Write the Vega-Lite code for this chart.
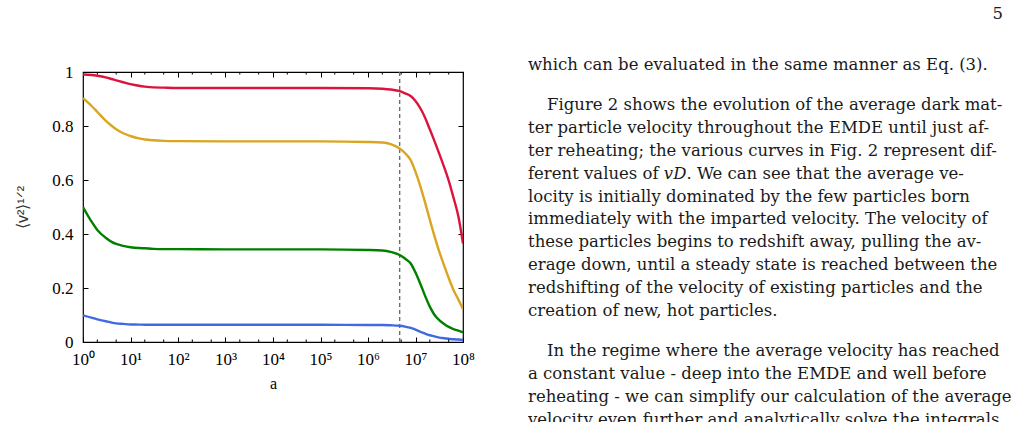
{
  "$schema": "https://vega.github.io/schema/vega-lite/v6.json",
  "background": "white",
  "padding": {"left": 14, "top": 6, "right": 0, "bottom": 0},
  "bounds": "flush",
  "spacing": 65,
  "config": {"view": {"stroke": null}},
  "datasets": {
    "curves": [
      {"vD": 1, "a": 1, "v": 0.991}, {"vD": 1, "a": 1.5, "v": 0.989}, {"vD": 1, "a": 2, "v": 0.986}, {"vD": 1, "a": 3, "v": 0.980}, {"vD": 1, "a": 4, "v": 0.974}, {"vD": 1, "a": 5, "v": 0.969}, {"vD": 1, "a": 7, "v": 0.962}, {"vD": 1, "a": 10, "v": 0.955}, {"vD": 1, "a": 15, "v": 0.949}, {"vD": 1, "a": 20, "v": 0.946}, {"vD": 1, "a": 30, "v": 0.943}, {"vD": 1, "a": 50, "v": 0.942}, {"vD": 1, "a": 100, "v": 0.941}, {"vD": 1, "a": 1000, "v": 0.941}, {"vD": 1, "a": 10000, "v": 0.941}, {"vD": 1, "a": 100000, "v": 0.941}, {"vD": 1, "a": 1000000, "v": 0.940}, {"vD": 1, "a": 2000000, "v": 0.938}, {"vD": 1, "a": 3000000, "v": 0.935}, {"vD": 1, "a": 4640000, "v": 0.929}, {"vD": 1, "a": 6000000, "v": 0.921}, {"vD": 1, "a": 8000000, "v": 0.910}, {"vD": 1, "a": 10000000, "v": 0.893}, {"vD": 1, "a": 13000000, "v": 0.862}, {"vD": 1, "a": 16000000, "v": 0.830}, {"vD": 1, "a": 20000000, "v": 0.788}, {"vD": 1, "a": 25000000, "v": 0.745}, {"vD": 1, "a": 32000000, "v": 0.695}, {"vD": 1, "a": 40000000, "v": 0.648}, {"vD": 1, "a": 50000000, "v": 0.598}, {"vD": 1, "a": 63000000, "v": 0.535}, {"vD": 1, "a": 80000000, "v": 0.465}, {"vD": 1, "a": 100000000, "v": 0.365},
      {"vD": 0.9, "a": 1, "v": 0.903}, {"vD": 0.9, "a": 1.5, "v": 0.875}, {"vD": 0.9, "a": 2, "v": 0.852}, {"vD": 0.9, "a": 3, "v": 0.820}, {"vD": 0.9, "a": 4, "v": 0.801}, {"vD": 0.9, "a": 5, "v": 0.788}, {"vD": 0.9, "a": 7, "v": 0.773}, {"vD": 0.9, "a": 10, "v": 0.763}, {"vD": 0.9, "a": 15, "v": 0.754}, {"vD": 0.9, "a": 20, "v": 0.750}, {"vD": 0.9, "a": 30, "v": 0.747}, {"vD": 0.9, "a": 50, "v": 0.745}, {"vD": 0.9, "a": 100, "v": 0.744}, {"vD": 0.9, "a": 1000, "v": 0.743}, {"vD": 0.9, "a": 10000, "v": 0.743}, {"vD": 0.9, "a": 100000, "v": 0.743}, {"vD": 0.9, "a": 1000000, "v": 0.741}, {"vD": 0.9, "a": 2000000, "v": 0.739}, {"vD": 0.9, "a": 3000000, "v": 0.733}, {"vD": 0.9, "a": 4640000, "v": 0.717}, {"vD": 0.9, "a": 6000000, "v": 0.700}, {"vD": 0.9, "a": 8000000, "v": 0.672}, {"vD": 0.9, "a": 10000000, "v": 0.630}, {"vD": 0.9, "a": 13000000, "v": 0.570}, {"vD": 0.9, "a": 16000000, "v": 0.515}, {"vD": 0.9, "a": 20000000, "v": 0.453}, {"vD": 0.9, "a": 25000000, "v": 0.393}, {"vD": 0.9, "a": 32000000, "v": 0.332}, {"vD": 0.9, "a": 40000000, "v": 0.284}, {"vD": 0.9, "a": 50000000, "v": 0.237}, {"vD": 0.9, "a": 63000000, "v": 0.193}, {"vD": 0.9, "a": 80000000, "v": 0.157}, {"vD": 0.9, "a": 100000000, "v": 0.122},
      {"vD": 0.5, "a": 1, "v": 0.500}, {"vD": 0.5, "a": 1.5, "v": 0.447}, {"vD": 0.5, "a": 2, "v": 0.415}, {"vD": 0.5, "a": 3, "v": 0.386}, {"vD": 0.5, "a": 4, "v": 0.371}, {"vD": 0.5, "a": 5, "v": 0.363}, {"vD": 0.5, "a": 7, "v": 0.356}, {"vD": 0.5, "a": 10, "v": 0.351}, {"vD": 0.5, "a": 15, "v": 0.348}, {"vD": 0.5, "a": 20, "v": 0.347}, {"vD": 0.5, "a": 30, "v": 0.345}, {"vD": 0.5, "a": 50, "v": 0.344}, {"vD": 0.5, "a": 100, "v": 0.344}, {"vD": 0.5, "a": 1000, "v": 0.343}, {"vD": 0.5, "a": 10000, "v": 0.343}, {"vD": 0.5, "a": 100000, "v": 0.343}, {"vD": 0.5, "a": 1000000, "v": 0.341}, {"vD": 0.5, "a": 2000000, "v": 0.339}, {"vD": 0.5, "a": 3000000, "v": 0.334}, {"vD": 0.5, "a": 4640000, "v": 0.322}, {"vD": 0.5, "a": 6000000, "v": 0.309}, {"vD": 0.5, "a": 8000000, "v": 0.290}, {"vD": 0.5, "a": 10000000, "v": 0.257}, {"vD": 0.5, "a": 13000000, "v": 0.210}, {"vD": 0.5, "a": 16000000, "v": 0.170}, {"vD": 0.5, "a": 20000000, "v": 0.131}, {"vD": 0.5, "a": 25000000, "v": 0.101}, {"vD": 0.5, "a": 32000000, "v": 0.080}, {"vD": 0.5, "a": 40000000, "v": 0.067}, {"vD": 0.5, "a": 50000000, "v": 0.056}, {"vD": 0.5, "a": 63000000, "v": 0.048}, {"vD": 0.5, "a": 80000000, "v": 0.042}, {"vD": 0.5, "a": 100000000, "v": 0.036},
      {"vD": 0.1, "a": 1, "v": 0.099}, {"vD": 0.1, "a": 1.5, "v": 0.090}, {"vD": 0.1, "a": 2, "v": 0.084}, {"vD": 0.1, "a": 3, "v": 0.077}, {"vD": 0.1, "a": 4, "v": 0.072}, {"vD": 0.1, "a": 5, "v": 0.069}, {"vD": 0.1, "a": 7, "v": 0.067}, {"vD": 0.1, "a": 10, "v": 0.065}, {"vD": 0.1, "a": 15, "v": 0.0645}, {"vD": 0.1, "a": 20, "v": 0.064}, {"vD": 0.1, "a": 30, "v": 0.064}, {"vD": 0.1, "a": 50, "v": 0.064}, {"vD": 0.1, "a": 100, "v": 0.064}, {"vD": 0.1, "a": 1000, "v": 0.064}, {"vD": 0.1, "a": 10000, "v": 0.064}, {"vD": 0.1, "a": 100000, "v": 0.064}, {"vD": 0.1, "a": 1000000, "v": 0.063}, {"vD": 0.1, "a": 2000000, "v": 0.063}, {"vD": 0.1, "a": 3000000, "v": 0.062}, {"vD": 0.1, "a": 4640000, "v": 0.060}, {"vD": 0.1, "a": 6000000, "v": 0.057}, {"vD": 0.1, "a": 8000000, "v": 0.052}, {"vD": 0.1, "a": 10000000, "v": 0.046}, {"vD": 0.1, "a": 13000000, "v": 0.037}, {"vD": 0.1, "a": 16000000, "v": 0.031}, {"vD": 0.1, "a": 20000000, "v": 0.025}, {"vD": 0.1, "a": 25000000, "v": 0.021}, {"vD": 0.1, "a": 32000000, "v": 0.016}, {"vD": 0.1, "a": 40000000, "v": 0.014}, {"vD": 0.1, "a": 50000000, "v": 0.012}, {"vD": 0.1, "a": 63000000, "v": 0.010}, {"vD": 0.1, "a": 80000000, "v": 0.009}, {"vD": 0.1, "a": 100000000, "v": 0.008}
    ],
    "reheat": [{"a": 4640000}],
    "minor": [{"a": 2}, {"a": 5}, {"a": 20}, {"a": 50}, {"a": 200}, {"a": 500}, {"a": 2000}, {"a": 5000}, {"a": 20000}, {"a": 50000}, {"a": 200000}, {"a": 500000}, {"a": 2000000}, {"a": 5000000}, {"a": 20000000}, {"a": 50000000}],
    "text": [
      {"para": 0, "line": -2, "col": 25, "text": "5"},
      {"para": 1, "line": 0, "col": 0, "text": "which can be evaluated in the same manner as Eq. (3)."},
      {"para": 2, "line": 1, "col": 1, "text": "Figure 2 shows the evolution of the average dark mat-"},
      {"para": 2, "line": 2, "col": 0, "text": "ter particle velocity throughout the EMDE until just af-"},
      {"para": 2, "line": 3, "col": 0, "text": "ter reheating; the various curves in Fig. 2 represent dif-"},
      {"para": 2, "line": 4, "col": 0, "text": "ferent values of 𝑣𝐷.  We can see that the average ve-"},
      {"para": 2, "line": 5, "col": 0, "text": "locity is initially dominated by the few particles born"},
      {"para": 2, "line": 6, "col": 0, "text": "immediately with the imparted velocity. The velocity of"},
      {"para": 2, "line": 7, "col": 0, "text": "these particles begins to redshift away, pulling the av-"},
      {"para": 2, "line": 8, "col": 0, "text": "erage down, until a steady state is reached between the"},
      {"para": 2, "line": 9, "col": 0, "text": "redshifting of the velocity of existing particles and the"},
      {"para": 2, "line": 10, "col": 0, "text": "creation of new, hot particles."},
      {"para": 3, "line": 11, "col": 1, "text": "In the regime where the average velocity has reached"},
      {"para": 3, "line": 12, "col": 0, "text": "a constant value - deep into the EMDE and well before"},
      {"para": 3, "line": 13, "col": 0, "text": "reheating - we can simplify our calculation of the average"},
      {"para": 3, "line": 14, "col": 0, "text": "velocity even further and analytically solve the integrals"}
    ]
  },
  "hconcat": [
    {
      "width": 380,
      "height": 270,
      "view": {"stroke": "#000000", "strokeWidth": 1.2},
      "resolve": {"axis": {"x": "independent", "y": "independent"}},
      "layer": [
        {
          "data": {"name": "reheat"},
          "mark": {"type": "rule", "color": "#6e6e6e", "strokeWidth": 1.4, "strokeDash": [4, 3]},
          "encoding": {
            "x": {"field": "a", "type": "quantitative", "scale": {"type": "log", "domain": [1, 100000000]}, "axis": null}
          }
        },
        {
          "data": {"name": "curves"},
          "mark": {"type": "line", "strokeWidth": 2.4, "interpolate": "monotone", "clip": true},
          "encoding": {
            "x": {
              "field": "a", "type": "quantitative",
              "scale": {"type": "log", "domain": [1, 100000000]},
              "axis": {
                "orient": "bottom",
                "values": [1, 10, 100, 1000, 10000, 100000, 1000000, 10000000, 100000000],
                "labelExpr": "'10' + ['⁰','¹','²','³','⁴','⁵','⁶','⁷','⁸'][round(log(datum.value)/LN10)]",
                "tickSize": -5, "tickColor": "#000000", "tickWidth": 1,
                "labelPadding": 14, "labelFlush": false, "labelOverlap": false, "labelBound": false,
                "labelFont": "Liberation Serif", "labelFontSize": 17, "labelColor": "#000000",
                "domain": false, "grid": false,
                "title": "a", "titleFont": "Liberation Serif", "titleFontSize": 16, "titleFontWeight": "normal", "titleColor": "#000000", "titlePadding": 8
              }
            },
            "y": {
              "field": "v", "type": "quantitative",
              "scale": {"domain": [0, 1]},
              "axis": {
                "orient": "left",
                "values": [0, 0.2, 0.4, 0.6, 0.8, 1],
                "format": "~g",
                "tickSize": -5, "tickColor": "#000000", "tickWidth": 1,
                "labelPadding": 15, "labelFlush": false, "labelOverlap": false,
                "labelFont": "Liberation Serif", "labelFontSize": 17, "labelColor": "#000000",
                "domain": false, "grid": false,
                "title": "⟨v²⟩¹ᐟ²", "titleFont": "Liberation Sans", "titleFontSize": 16, "titleFontWeight": "normal", "titleColor": "#333333", "titlePadding": 21
              }
            },
            "color": {
              "field": "vD", "type": "nominal",
              "scale": {"domain": [1, 0.9, 0.5, 0.1], "range": ["#DC143C", "#DAA520", "#008000", "#4169E1"]},
              "legend": null
            }
          }
        },
        {
          "data": {"name": "minor"},
          "mark": {"type": "rule", "color": "#000000", "strokeWidth": 1},
          "encoding": {
            "x": {
              "field": "a", "type": "quantitative",
              "scale": {"type": "log", "domain": [1, 100000000]},
              "axis": {
                "orient": "top",
                "values": [1, 10, 100, 1000, 10000, 100000, 1000000, 10000000, 100000000],
                "tickSize": -5, "tickColor": "#000000", "tickWidth": 1,
                "labels": false, "domain": false, "grid": false, "title": null
              }
            },
            "y": {
              "datum": 0,
              "axis": {
                "orient": "right",
                "values": [0, 0.2, 0.4, 0.6, 0.8, 1],
                "tickSize": -5, "tickColor": "#000000", "tickWidth": 1,
                "labels": false, "domain": false, "grid": false, "title": null
              }
            },
            "y2": {"datum": 0.0095}
          }
        },
        {
          "data": {"name": "minor"},
          "mark": {"type": "rule", "color": "#000000", "strokeWidth": 1},
          "encoding": {
            "x": {"field": "a", "type": "quantitative", "scale": {"type": "log", "domain": [1, 100000000]}, "axis": null},
            "y": {"datum": 1, "axis": null},
            "y2": {"datum": 0.9905}
          }
        }
      ]
    },
    {
      "width": 495,
      "height": 350,
      "data": {"name": "text"},
      "encoding": {
        "x": {"field": "col", "type": "quantitative", "scale": {"domain": [0, 26.05], "nice": false}, "axis": null},
        "y": {"field": "line", "type": "quantitative", "scale": {"domain": [0, 15.35], "nice": false, "zero": false, "reverse": true}, "axis": null},
        "text": {"field": "text"}
      },
      "layer": [
        {
          "transform": [{"filter": "datum.para == 0"}],
          "mark": {"type": "text", "align": "right", "baseline": "alphabetic", "dy": -7.1, "font": "DejaVu Serif", "fontSize": 16.5, "color": "#1a1a1a"}
        },
        {
          "transform": [{"filter": "datum.para == 1"}],
          "mark": {"type": "text", "align": "left", "baseline": "alphabetic", "dy": -1.7, "font": "DejaVu Serif", "fontSize": 16.5, "color": "#1a1a1a"}
        },
        {
          "transform": [{"filter": "datum.para == 2"}],
          "mark": {"type": "text", "align": "left", "baseline": "alphabetic", "dy": 15.5, "font": "DejaVu Serif", "fontSize": 16.5, "color": "#1a1a1a"}
        },
        {
          "transform": [{"filter": "datum.para == 3"}],
          "mark": {"type": "text", "align": "left", "baseline": "alphabetic", "dy": 33.5, "font": "DejaVu Serif", "fontSize": 16.5, "color": "#1a1a1a", "clip": true}
        }
      ]
    }
  ]
}
